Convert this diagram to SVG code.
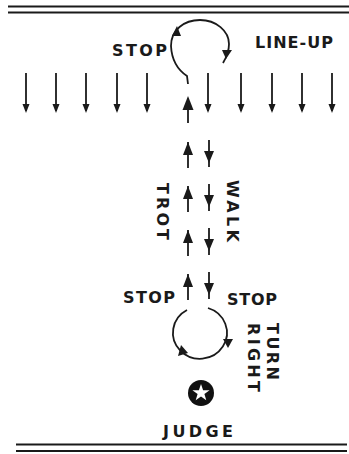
<svg xmlns="http://www.w3.org/2000/svg" width="349" height="454" viewBox="0 0 349 454">
<style>
.ln{stroke:#1a1a1a;stroke-width:2.2;fill:none}
.sh{stroke:#1a1a1a;stroke-width:1.8;fill:none}
.hd{fill:#1a1a1a}
.t{font-family:"DejaVu Sans","Liberation Sans",sans-serif;font-weight:bold;font-size:16px;fill:#1a1a1a}
</style>
<defs>
<g id="dn"><line class="sh" x1="0" y1="0" x2="0" y2="38"/><polygon class="hd" points="-3.5,31 3.5,31 0,40"/></g>
<g id="up2"><line class="sh" x1="0" y1="2" x2="0" y2="28"/><polygon class="hd" points="-5,15 5,15 0,2"/></g>
<g id="dn2"><line class="sh" x1="0" y1="0" x2="0" y2="27"/><polygon class="hd" points="-5,11 5,11 0,23"/></g>
</defs>
<g id="borders">
<line class="ln" x1="8" y1="6.5" x2="349" y2="6.5"/>
<line class="ln" x1="8" y1="12.5" x2="349" y2="12.5"/>
<line class="ln" x1="16" y1="444.5" x2="347" y2="444.5"/>
<line class="ln" x1="16" y1="451" x2="347" y2="451"/>
</g>
<g id="lineup-arrows">
<use href="#dn" x="26" y="73"/>
<use href="#dn" x="56" y="73"/>
<use href="#dn" x="86" y="73"/>
<use href="#dn" x="117" y="73"/>
<use href="#dn" x="147" y="73"/>
<use href="#dn" x="208" y="73"/>
<use href="#dn" x="241" y="73"/>
<use href="#dn" x="272" y="73"/>
<use href="#dn" x="302" y="73"/>
<use href="#dn" x="332" y="73"/>
</g>
<g id="connectors">
<line class="sh" x1="188" y1="100" x2="188" y2="123"/>
<polygon class="hd" points="182.5,110 193.5,110 188,96"/>
<use href="#up2" x="188" y="140"/>
<use href="#dn2" x="209" y="140"/>
<use href="#up2" x="188" y="184"/>
<use href="#dn2" x="209" y="184"/>
<use href="#up2" x="188" y="228"/>
<use href="#dn2" x="209" y="228"/>
<use href="#up2" x="188" y="272"/>
<use href="#dn2" x="209" y="272"/>
</g>
<g id="top-loop">
<path class="sh" d="M188,84 L187,76 Q172,66 171,46 C171,30 184,20 200,20 C216,20 229,31 229,44 C229,52 226,58 223,63"/>
<polygon class="hd" points="172,36 177,26 181,36"/>
<polygon class="hd" points="222,50 232,50 226,59"/>
</g>
<g id="bottom-loop">
<path class="sh" d="M187,310 A27,26 0 1 0 208,308"/>
<polygon class="hd" points="223,339 233,339 228,348"/>
<polygon class="hd" points="178,356 181,345 188,353"/>
</g>
<g id="judge">
<circle cx="201" cy="393" r="13" fill="#111"/>
<polygon fill="#fff" points="201,384 203.1,390.2 209.6,390.2 204.4,394.1 206.3,400.3 201,396.5 195.7,400.3 197.6,394.1 192.4,390.2 198.9,390.2"/>
<text class="t" x="163" y="437" textLength="70" lengthAdjust="spacing">JUDGE</text>
</g>
<g id="labels">
<text class="t" x="112" y="56" textLength="55" lengthAdjust="spacing">STOP</text>
<text class="t" x="255" y="48" textLength="78" lengthAdjust="spacing">LINE-UP</text>
<text class="t" x="123" y="303" textLength="52" lengthAdjust="spacing">STOP</text>
<text class="t" x="227" y="305" textLength="50" lengthAdjust="spacing">STOP</text>
<text class="t" transform="translate(157,183) rotate(90)" textLength="57" lengthAdjust="spacing">TROT</text>
<text class="t" transform="translate(227,180) rotate(90)" textLength="62" lengthAdjust="spacing">WALK</text>
<text class="t" transform="translate(267,323) rotate(90)" textLength="57" lengthAdjust="spacing">TURN</text>
<text class="t" transform="translate(248,323) rotate(90)" textLength="69" lengthAdjust="spacing">RIGHT</text>
</g>
</svg>
